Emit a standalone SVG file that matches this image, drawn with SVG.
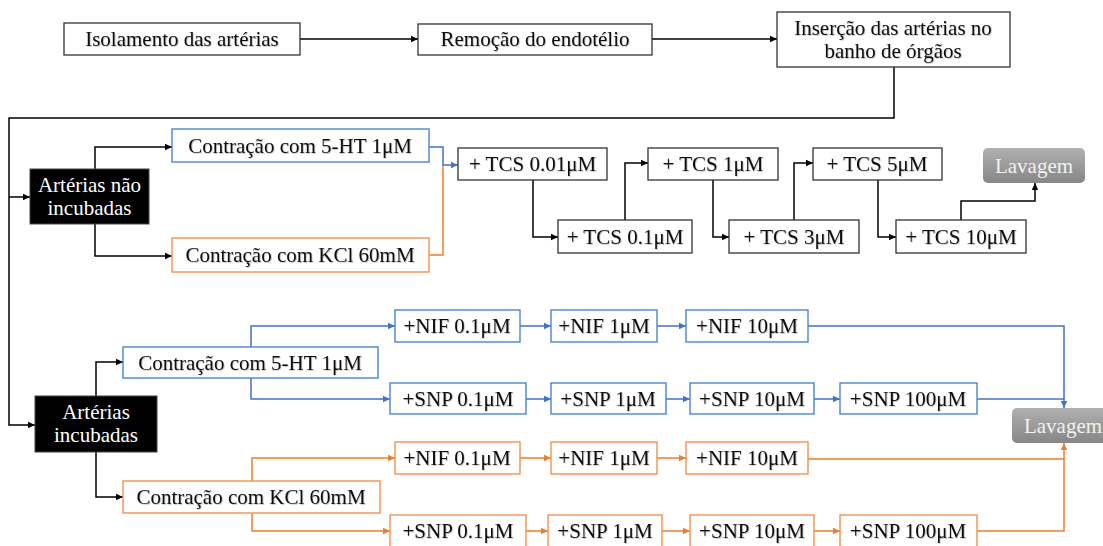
<svg xmlns="http://www.w3.org/2000/svg" width="1103" height="546" viewBox="0 0 1103 546">
<defs>
<style>
.t{font-family:"Liberation Serif","Times New Roman",serif;font-size:21px;fill:#111;text-anchor:middle;filter:url(#sh)}
.tw{font-family:"Liberation Serif","Times New Roman",serif;font-size:21px;fill:#fff;text-anchor:middle}
.tl{font-family:"Liberation Serif","Times New Roman",serif;font-size:21px;fill:#f2f2f2;text-anchor:middle}
.bk{fill:#fff;stroke:#333;stroke-width:1.3}
.bb{fill:#fff;stroke:#4a86cf;stroke-width:1.4}
.bo{fill:#fff;stroke:#f2924f;stroke-width:1.4}
.blk{fill:#000;stroke:#444;stroke-width:1}
.lav{fill:url(#gr)}
.ck{fill:none;stroke:#000;stroke-width:1.5}
.cb{fill:none;stroke:#4472c4;stroke-width:1.5}
.co{fill:none;stroke:#ed7d31;stroke-width:1.5}
</style>
<filter id="sh" x="-5%" y="-20%" width="110%" height="140%"><feDropShadow dx="0.8" dy="0.8" stdDeviation="0.6" flood-color="#000" flood-opacity="0.25"/></filter>
<linearGradient id="gr" x1="0" y1="0" x2="0" y2="1"><stop offset="0" stop-color="#b0b0b0"/><stop offset="1" stop-color="#868686"/></linearGradient>
<marker id="ak" markerWidth="8" markerHeight="8" refX="7" refY="4" orient="auto" markerUnits="userSpaceOnUse"><path d="M0,0.8 L7,4 L0,7.2 Z" fill="#000"/></marker>
<marker id="ab" markerWidth="8" markerHeight="8" refX="7" refY="4" orient="auto" markerUnits="userSpaceOnUse"><path d="M0,0.8 L7,4 L0,7.2 Z" fill="#4472c4"/></marker>
<marker id="ao" markerWidth="8" markerHeight="8" refX="7" refY="4" orient="auto" markerUnits="userSpaceOnUse"><path d="M0,0.8 L7,4 L0,7.2 Z" fill="#ed7d31"/></marker>
</defs>
<rect width="1103" height="546" fill="#fff"/>

<g id="connectors">
<path class="ck" d="M300,39 H418" marker-end="url(#ak)"/>
<path class="ck" d="M652,39 H777" marker-end="url(#ak)"/>
<path class="ck" d="M894,67 V118 H9 V425 H35" marker-end="url(#ak)"/>
<path class="ck" d="M9,197 H30" marker-end="url(#ak)"/>
<path class="ck" d="M95,169 V147 H172" marker-end="url(#ak)"/>
<path class="ck" d="M95,224 V256 H172" marker-end="url(#ak)"/>
<path class="cb" d="M429,147 H443 V165 H458" marker-end="url(#ab)"/>
<path class="co" d="M429,255 H443 V165"/>
<path class="ck" d="M533,180 V237 H558" marker-end="url(#ak)"/>
<path class="ck" d="M625,220 V163 H648" marker-end="url(#ak)"/>
<path class="ck" d="M713,180 V237 H729" marker-end="url(#ak)"/>
<path class="ck" d="M794,220 V163 H813" marker-end="url(#ak)"/>
<path class="ck" d="M878,180 V237 H896" marker-end="url(#ak)"/>
<path class="ck" d="M961,220 V201 H1035 V183" marker-end="url(#ak)"/>
<path class="ck" d="M96,396 V362 H123" marker-end="url(#ak)"/>
<path class="ck" d="M96,452 V497 H123" marker-end="url(#ak)"/>
<path class="cb" d="M251,347 V326 H395" marker-end="url(#ab)"/>
<path class="cb" d="M251,378 V399 H390" marker-end="url(#ab)"/>
<path class="cb" d="M520,326 H551" marker-end="url(#ab)"/>
<path class="cb" d="M657,326 H686" marker-end="url(#ab)"/>
<path class="cb" d="M808,326 H1064 V408" marker-end="url(#ab)"/>
<path class="cb" d="M526,399 H551" marker-end="url(#ab)"/>
<path class="cb" d="M666,399 H690" marker-end="url(#ab)"/>
<path class="cb" d="M814,399 H840" marker-end="url(#ab)"/>
<path class="cb" d="M977,399 H1064"/>
<path class="co" d="M252,481 V458 H395" marker-end="url(#ao)"/>
<path class="co" d="M252,513 V531 H390" marker-end="url(#ao)"/>
<path class="co" d="M520,458 H551" marker-end="url(#ao)"/>
<path class="co" d="M657,458 H686" marker-end="url(#ao)"/>
<path class="co" d="M808,459 H1064"/>
<path class="co" d="M526,531 H548" marker-end="url(#ao)"/>
<path class="co" d="M662,531 H690" marker-end="url(#ao)"/>
<path class="co" d="M814,531 H840" marker-end="url(#ao)"/>
<path class="co" d="M977,531 H1064 V443" marker-end="url(#ao)"/>
</g>

<g id="isolamento"><rect class="bk" x="64" y="23" width="236" height="32"/><text class="t" x="182" y="46">Isolamento das artérias</text></g>
<g id="remocao"><rect class="bk" x="418" y="24" width="234" height="31"/><text class="t" x="535" y="46">Remoção do endotélio</text></g>
<g id="insercao"><rect class="bk" x="777" y="12" width="233" height="55"/><text class="t" x="893" y="35">Inserção das artérias no</text><text class="t" x="893" y="58">banho de órgãos</text></g>

<g id="nao-incubadas"><rect class="blk" x="30" y="169" width="119" height="55"/><text class="tw" x="89.5" y="192">Artérias não</text><text class="tw" x="89.5" y="215">incubadas</text></g>
<g id="ni-5ht"><rect class="bb" x="172" y="129" width="257" height="33"/><text class="t" x="300" y="153">Contração com 5-HT 1μM</text></g>
<g id="ni-kcl"><rect class="bo" x="172" y="238" width="257" height="34"/><text class="t" x="300" y="262">Contração com KCl 60mM</text></g>

<g id="tcs001"><rect class="bk" x="458" y="148" width="149" height="32"/><text class="t" x="532.5" y="171">+ TCS 0.01μM</text></g>
<g id="tcs01"><rect class="bk" x="558" y="220" width="134" height="33"/><text class="t" x="625" y="244">+ TCS 0.1μM</text></g>
<g id="tcs1"><rect class="bk" x="648" y="148" width="130" height="32"/><text class="t" x="713" y="171">+ TCS 1μM</text></g>
<g id="tcs3"><rect class="bk" x="729" y="220" width="130" height="33"/><text class="t" x="794" y="244">+ TCS 3μM</text></g>
<g id="tcs5"><rect class="bk" x="813" y="148" width="129" height="32"/><text class="t" x="877" y="171">+ TCS 5μM</text></g>
<g id="tcs10"><rect class="bk" x="896" y="220" width="130" height="33"/><text class="t" x="961" y="244">+ TCS 10μM</text></g>
<g id="lavagem1"><rect class="lav" x="983" y="148" width="102" height="35" rx="5"/><text class="tl" x="1034" y="173">Lavagem</text></g>

<g id="incubadas"><rect class="blk" x="35" y="396" width="122" height="56"/><text class="tw" x="96" y="419">Artérias</text><text class="tw" x="96" y="442">incubadas</text></g>
<g id="i-5ht"><rect class="bb" x="123" y="347" width="255" height="31"/><text class="t" x="250" y="370">Contração com 5-HT 1μM</text></g>
<g id="i-kcl"><rect class="bo" x="123" y="481" width="257" height="32"/><text class="t" x="251" y="504">Contração com KCl 60mM</text></g>

<g id="b-nif01"><rect class="bb" x="395" y="310" width="125" height="32"/><text class="t" x="457" y="333">+NIF 0.1μM</text></g>
<g id="b-nif1"><rect class="bb" x="551" y="310" width="106" height="32"/><text class="t" x="604" y="333">+NIF 1μM</text></g>
<g id="b-nif10"><rect class="bb" x="686" y="310" width="122" height="32"/><text class="t" x="747" y="333">+NIF 10μM</text></g>
<g id="b-snp01"><rect class="bb" x="390" y="383" width="136" height="31"/><text class="t" x="458" y="406">+SNP 0.1μM</text></g>
<g id="b-snp1"><rect class="bb" x="551" y="383" width="115" height="31"/><text class="t" x="608" y="406">+SNP 1μM</text></g>
<g id="b-snp10"><rect class="bb" x="690" y="383" width="124" height="31"/><text class="t" x="752" y="406">+SNP 10μM</text></g>
<g id="b-snp100"><rect class="bb" x="840" y="383" width="137" height="31"/><text class="t" x="908" y="406">+SNP 100μM</text></g>
<g id="lavagem2"><rect class="lav" x="1012" y="408" width="104" height="35" rx="5"/><text class="tl" x="1063" y="433">Lavagem</text></g>

<g id="o-nif01"><rect class="bo" x="395" y="442" width="125" height="32"/><text class="t" x="457" y="465">+NIF 0.1μM</text></g>
<g id="o-nif1"><rect class="bo" x="551" y="442" width="106" height="32"/><text class="t" x="604" y="465">+NIF 1μM</text></g>
<g id="o-nif10"><rect class="bo" x="686" y="442" width="122" height="32"/><text class="t" x="747" y="465">+NIF 10μM</text></g>
<g id="o-snp01"><rect class="bo" x="390" y="515" width="136" height="33"/><text class="t" x="458" y="538">+SNP 0.1μM</text></g>
<g id="o-snp1"><rect class="bo" x="548" y="515" width="114" height="33"/><text class="t" x="605" y="538">+SNP 1μM</text></g>
<g id="o-snp10"><rect class="bo" x="690" y="515" width="124" height="33"/><text class="t" x="752" y="538">+SNP 10μM</text></g>
<g id="o-snp100"><rect class="bo" x="840" y="515" width="137" height="33"/><text class="t" x="908" y="538">+SNP 100μM</text></g>
</svg>
